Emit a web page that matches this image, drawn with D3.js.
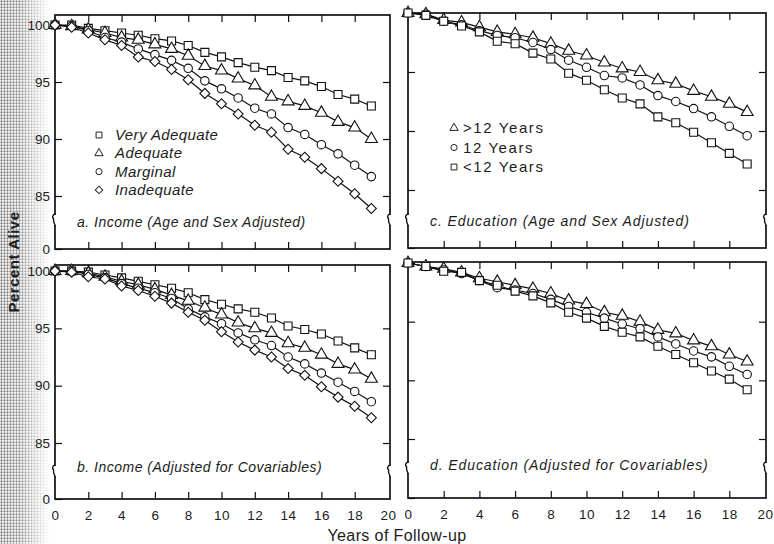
<!DOCTYPE html>
<html><head><meta charset="utf-8">
<script src="https://cdn.jsdelivr.net/npm/d3@7"></script>
<style>
body{margin:0;background:#fff}
svg{display:block}
text{font-family:"Liberation Sans",Arial,Helvetica,sans-serif;fill:#1c1c1c}
</style>
</head><body>
<svg id="chart" width="774" height="544"></svg>
<script>
// ---------------- data ----------------
const years = [0,1,2,3,4,5,6,7,8,9,10,11,12,13,14,15,16,17,18,19];
const xTickValues = [0,2,4,6,8,10,12,14,16,18,20];
const yTickValues = [0,85,90,95,100];
const yTickLabels = ["0","85","90","95","100"];

const incomeLabels = ["Very Adequate","Adequate","Marginal","Inadequate"];
const educationLabels = [">12 Years","12 Years","<12 Years"];

// a. Income (Age and Sex Adjusted)
const incAgeVeryAdequate = [100,100,99.7,99.5,99.3,99.1,98.8,98.6,98.2,97.6,97.2,96.7,96.3,96.0,95.4,95.1,94.6,93.9,93.5,92.9];
const incAgeAdequate     = [100,99.9,99.6,99.3,98.9,98.7,98.3,97.9,97.3,96.4,96.0,95.3,94.7,93.7,93.3,92.9,92.3,91.5,91.0,90.0];
const incAgeMarginal     = [100,99.9,99.5,98.9,98.5,97.9,97.4,96.9,96.2,95.1,94.4,93.6,92.7,92.2,91.0,90.4,89.5,88.7,87.7,86.7];
const incAgeInadequate   = [100,99.8,99.3,98.7,98.2,97.2,96.8,96.1,95.2,94.0,93.1,92.2,91.2,90.6,89.1,88.4,87.4,86.3,85.2,83.9];

// b. Income (Adjusted for Covariables)
const incCovVeryAdequate = [100,100,99.9,99.65,99.4,99.1,98.8,98.5,98.1,97.5,97.1,96.7,96.4,95.9,95.2,94.9,94.5,93.9,93.3,92.7];
const incCovAdequate     = [100,100,99.8,99.5,99.1,98.8,98.4,97.9,97.4,96.8,96.2,95.5,95.0,94.6,93.7,93.3,92.7,91.9,91.4,90.6];
const incCovMarginal     = [100,100,99.7,99.4,98.9,98.5,98.1,97.6,96.7,96.0,95.4,94.6,94.0,93.5,92.5,91.9,91.1,90.3,89.5,88.6];
const incCovInadequate   = [100,99.9,99.5,99.3,98.7,98.3,97.8,97.2,96.4,95.7,94.7,93.8,93.1,92.5,91.5,90.9,89.9,89.0,88.2,87.2];

// c. Education (Age and Sex Adjusted)
const eduAgeOver12  = [100,99.9,99.4,99.2,98.8,98.4,98.2,97.9,97.4,96.8,96.4,95.8,95.3,95.0,94.3,94.0,93.4,92.9,92.3,91.6];
const eduAgeEq12    = [100,99.9,99.3,99.0,98.5,98.1,97.9,97.5,96.9,96.0,95.4,94.7,94.5,93.9,93.0,92.5,91.9,91.2,90.4,89.6];
const eduAgeUnder12 = [100,99.8,99.3,98.9,98.4,97.6,97.4,96.6,96.1,94.9,94.3,93.5,92.8,92.3,91.2,90.7,89.9,89.0,88.1,87.2];

// d. Education (Adjusted for Covariables)
const eduCovOver12  = [100,99.7,99.5,99.2,98.7,98.4,98.1,97.8,97.4,96.8,96.5,95.8,95.5,95.0,94.3,94.0,93.4,92.9,92.2,91.6];
const eduCovEq12    = [100,99.7,99.4,99.1,98.5,97.9,97.7,97.4,96.9,96.3,95.8,95.3,94.8,94.4,93.7,93.1,92.5,92.0,91.2,90.5];
const eduCovUnder12 = [100,99.7,99.3,99.2,98.5,98.1,97.6,97.2,96.6,95.8,95.3,94.6,94.1,93.7,92.9,92.2,91.5,90.8,90.1,89.2];

const panelTitles = [
  "a. Income (Age and Sex Adjusted)",
  "b. Income (Adjusted for Covariables)",
  "c. Education (Age and Sex Adjusted)",
  "d. Education (Adjusted for Covariables)"
];

// ---------------- layout ----------------
const svg = d3.select("#chart");
const defs = svg.append("defs");

// scan halftone at left edge
const grad = defs.append("linearGradient").attr("id","fade").attr("x1","0").attr("x2","1");
grad.append("stop").attr("offset","0").attr("stop-color","#fff").attr("stop-opacity",1);
grad.append("stop").attr("offset","0.4").attr("stop-color","#fff").attr("stop-opacity",0.85);
grad.append("stop").attr("offset","1").attr("stop-color","#fff").attr("stop-opacity",0);
const mask = defs.append("mask").attr("id","fadeMask");
mask.append("rect").attr("x",0).attr("y",0).attr("width",50).attr("height",544).attr("fill","url(#fade)");
const pat = defs.append("pattern").attr("id","dots").attr("width",3).attr("height",3).attr("patternUnits","userSpaceOnUse");
pat.append("circle").attr("cx",1.5).attr("cy",1.5).attr("r",1.15).attr("fill","#7a7a7a");
svg.append("rect").attr("x",0).attr("y",0).attr("width",50).attr("height",544)
  .attr("fill","url(#dots)").attr("mask","url(#fadeMask)");

const symbols = {
  square: d3.symbol().type(d3.symbolSquare).size(64),
  triangle: d3.symbol().type(d3.symbolTriangle).size(62),
  circle: d3.symbol().type(d3.symbolCircle).size(56),
  diamond: d3.symbol().type(d3.symbolSquare).size(50)
};
const legendSymbols = {
  square: d3.symbol().type(d3.symbolSquare).size(34),
  triangle: d3.symbol().type(d3.symbolTriangle).size(30),
  circle: d3.symbol().type(d3.symbolCircle).size(30),
  diamond: d3.symbol().type(d3.symbolSquare).size(28)
};
const symRot = s => s === "diamond" ? " rotate(45)" : "";

const panels = [
  {title: panelTitles[0], left:55, right:390, top:15, bottom:249, x0:55, x20:388, y100:25, y85:196, brk:220, titleY:227, xLabels:false, yLabels:true,
   series:[{name:incomeLabels[0],v:incAgeVeryAdequate,s:"square"},{name:incomeLabels[1],v:incAgeAdequate,s:"triangle"},
           {name:incomeLabels[2],v:incAgeMarginal,s:"circle"},{name:incomeLabels[3],v:incAgeInadequate,s:"diamond"}],
   legend:{x:99, tx:115, y:135, dy:18.3, italic:true}},
  {title: panelTitles[1], left:55, right:390, top:265, bottom:499, x0:55, x20:388, y100:271, y85:443, brk:471, titleY:472, xLabels:true, yLabels:true,
   series:[{v:incCovVeryAdequate,s:"square"},{v:incCovAdequate,s:"triangle"},
           {v:incCovMarginal,s:"circle"},{v:incCovInadequate,s:"diamond"}]},
  {title: panelTitles[2], left:408, right:766, top:13, bottom:248, x0:408, x20:765, y100:13, y85:190, brk:220, titleY:226, xLabels:false, yLabels:false,
   series:[{name:educationLabels[0],v:eduAgeOver12,s:"triangle"},{name:educationLabels[1],v:eduAgeEq12,s:"circle"},
           {name:educationLabels[2],v:eduAgeUnder12,s:"square"}],
   legend:{x:454, tx:463, y:128, dy:19.5, italic:false}},
  {title: panelTitles[3], left:408, right:766, top:262, bottom:498, x0:408, x20:765, y100:263, y85:439, brk:468, titleY:470, xLabels:true, yLabels:false,
   series:[{v:eduCovOver12,s:"triangle"},{v:eduCovEq12,s:"circle"},{v:eduCovUnder12,s:"square"}]}
];

panels.forEach(p => {
  const g = svg.append("g");
  const x = d3.scaleLinear().domain([0,20]).range([p.x0, p.x20]);
  const y82 = p.y100 + (p.y85 - p.y100) * (18/15);
  const y = d3.scaleLinear().domain([0,82,100]).range([p.bottom, y82, p.y100]);

  // frame
  g.append("rect").attr("x",p.left).attr("y",p.top).attr("width",p.right-p.left).attr("height",p.bottom-p.top)
    .attr("fill","none").attr("stroke","#111").attr("stroke-width",1.7);

  // left axis
  const la = g.append("g").attr("transform",`translate(${p.left},0)`)
    .call(d3.axisLeft(y).tickValues(yTickValues).tickSizeInner(-7).tickSizeOuter(0).tickPadding(5)
      .tickFormat((d,i)=> p.yLabels ? yTickLabels[i] : ""));
  la.select(".domain").remove();
  la.selectAll("line").attr("stroke","#111").attr("stroke-width",1.2);
  la.selectAll("text").style("font-size","13.5px").attr("fill","#222");
  // right axis ticks
  const ra = g.append("g").attr("transform",`translate(${p.right},0)`)
    .call(d3.axisRight(y).tickValues([85,90,95]).tickSizeInner(-7).tickSizeOuter(0).tickFormat(""));
  ra.select(".domain").remove();
  ra.selectAll("line").attr("stroke","#111").attr("stroke-width",1.2);

  // top ticks
  const ta = g.append("g").attr("transform",`translate(0,${p.top})`)
    .call(d3.axisTop(x).tickValues(xTickValues.slice(1,-1)).tickSizeInner(-7).tickSizeOuter(0).tickFormat(""));
  ta.select(".domain").remove();
  ta.selectAll("line").attr("stroke","#111").attr("stroke-width",1.2);
  // bottom axis
  const ba = g.append("g").attr("transform",`translate(0,${p.bottom})`)
    .call(d3.axisBottom(x).tickValues(xTickValues).tickSizeInner(-7).tickSizeOuter(0).tickPadding(11)
      .tickFormat(d => p.xLabels ? String(d) : ""));
  ba.select(".domain").remove();
  ba.selectAll(".tick").filter(d => d===0 || d===20).select("line").remove();
  ba.selectAll("line").attr("stroke","#111").attr("stroke-width",1.2);
  ba.selectAll("text").style("font-size","13.5px").style("letter-spacing","0.5px").attr("fill","#222");

  // axis break marks on left and right borders
  [p.left, p.right].forEach(bx => {
    g.append("rect").attr("x",bx-2).attr("y",p.brk-5).attr("width",4).attr("height",10).attr("fill","#fff");
    g.append("path").attr("d",`M${bx},${p.brk-6} C${bx-3},${p.brk-5} ${bx-3},${p.brk-2} ${bx-1},${p.brk-1} M${bx},${p.brk+6} C${bx},${p.brk+3} ${bx-3},${p.brk+1} ${bx-1},${p.brk-1}`)
      .attr("fill","none").attr("stroke","#111").attr("stroke-width",1.4);
  });

  // series
  const line = d3.line().x((d,i)=>x(years[i])).y(d=>y(d));
  p.series.forEach(s => {
    g.append("path").datum(s.v).attr("d",line).attr("fill","none").attr("stroke","#111").attr("stroke-width",1.2);
  });
  p.series.forEach(s => {
    g.selectAll(null).data(s.v).enter().append("path")
      .attr("d",symbols[s.s]())
      .attr("transform",(d,i)=>`translate(${x(years[i])},${y(d)})${symRot(s.s)}`)
      .attr("fill","#fff").attr("stroke","#111").attr("stroke-width",1.1);
  });

  // legend
  if (p.legend) {
    const L = p.legend;
    p.series.forEach((s,i) => {
      const ly = L.y + i*L.dy;
      g.append("path").attr("d",legendSymbols[s.s]()).attr("transform",`translate(${L.x},${ly})${symRot(s.s)}`)
        .attr("fill","#fff").attr("stroke","#222").attr("stroke-width",1);
      g.append("text").attr("x",L.tx).attr("y",ly+5).text(s.name)
        .style("font-size","15px").style("letter-spacing",L.italic ? "0.4px" : "1.6px")
        .style("font-style",L.italic?"italic":"normal");
    });
  }

  // panel title
  g.append("text").attr("x",p.left+22).attr("y",p.titleY).text(p.title)
    .style("font-size","14px").style("letter-spacing", p.left < 100 ? "0.5px" : "0.9px").style("font-style","italic");
});

// axis titles
svg.append("text").attr("transform","translate(19,262) rotate(-90)").attr("text-anchor","middle")
  .text("Percent Alive").style("font-size","15px").style("font-weight","bold").style("letter-spacing","0.5px").attr("fill","#333");
svg.append("text").attr("x",397).attr("y",541).attr("text-anchor","middle")
  .text("Years of Follow-up").style("font-size","16px").style("letter-spacing","0.4px");
</script>
</body></html>
